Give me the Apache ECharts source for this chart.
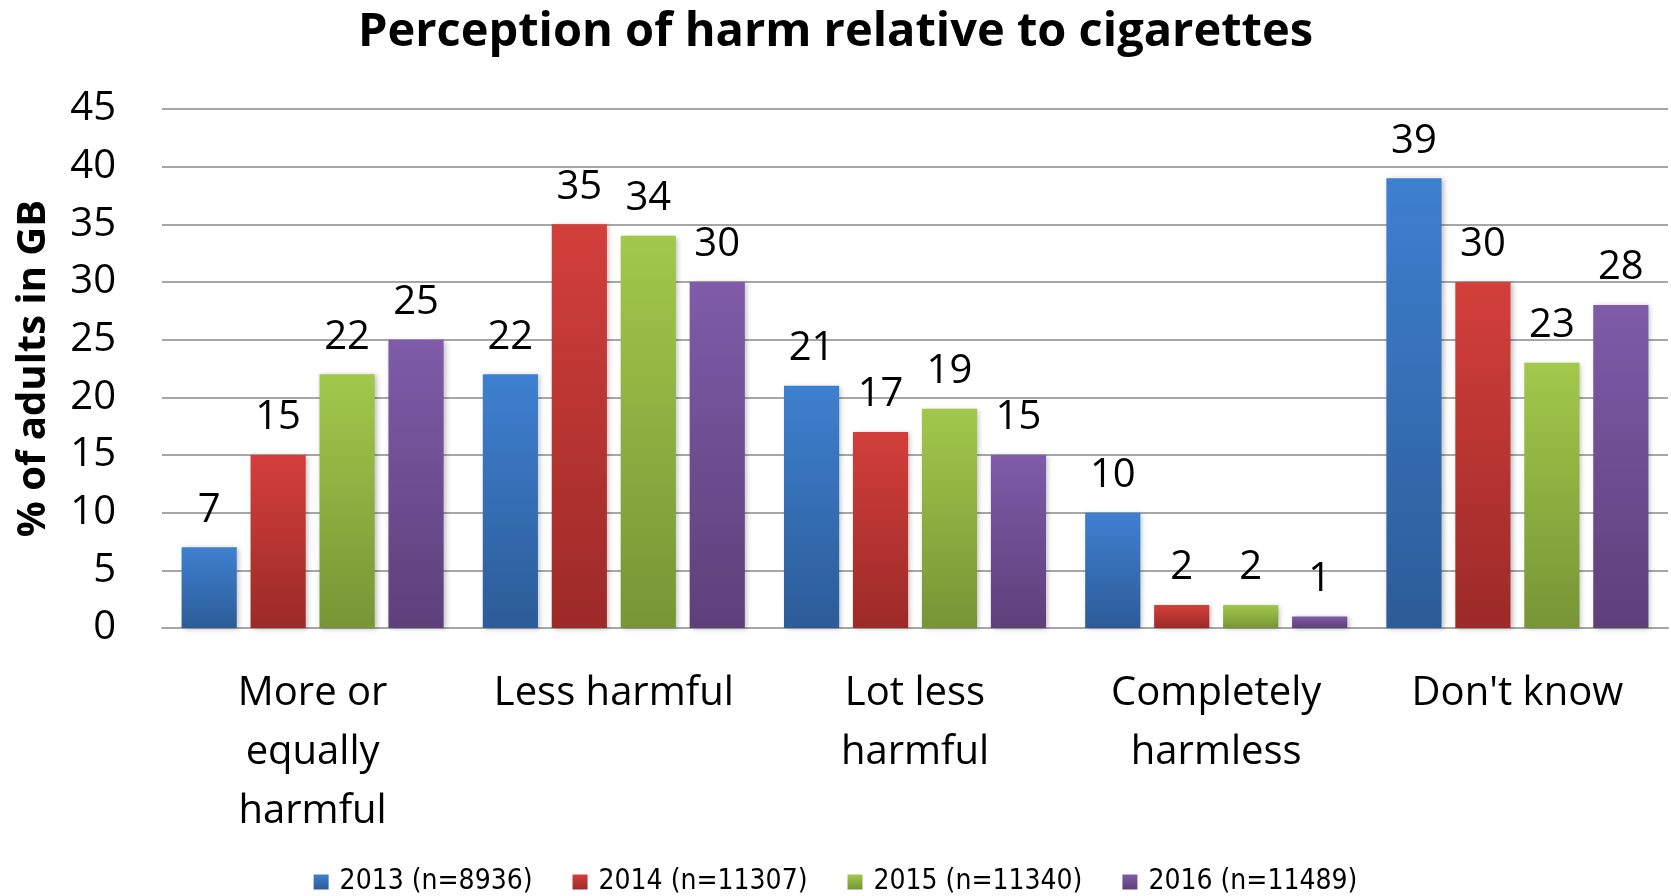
<!DOCTYPE html>
<html>
<head>
<meta charset="utf-8">
<script src="https://cdn.jsdelivr.net/npm/echarts@6/dist/echarts.min.js"></script>
<style>
  html, body { margin: 0; padding: 0; background: #fff; }
  #chart { width: 1671px; height: 896px; }
</style>
</head>
<body>
<div id="chart"></div>
<script>
// Perception categories (x axis)
const categories = [
  'More or\nequally\nharmful',
  'Less harmful',
  'Lot less\nharmful',
  'Completely\nharmless',
  "Don't know"
];

// Survey years (legend names)
const seriesNames = ['2013 (n=8936)', '2014 (n=11307)', '2015 (n=11340)', '2016 (n=11489)'];

// Percentage of adults per category, one array per survey year
const values2013 = [7, 22, 21, 10, 39];
const values2014 = [15, 35, 17, 2, 30];
const values2015 = [22, 34, 19, 2, 23];
const values2016 = [25, 30, 15, 1, 28];

// Y axis range
const yMin = 0;
const yMax = 45;
const yStep = 5;

// Top/bottom gradient colours per year
const palette = [
  ['#3e80d0', '#2c5c98'],
  ['#d33f3b', '#9c2a28'],
  ['#a2c84b', '#779535'],
  ['#7f5ba9', '#5d407a']
];

const seriesValues = [values2013, values2014, values2015, values2016];
const FONT = "'Open Sans', 'Noto Sans', sans-serif";

function gradient(c) {
  return new echarts.graphic.LinearGradient(0, 0, 0, 1, [
    { offset: 0, color: c[0] },
    { offset: 1, color: c[1] }
  ]);
}

const chart = echarts.init(document.getElementById('chart'), null, { renderer: 'canvas' });

chart.setOption({
  animation: false,
  backgroundColor: '#ffffff',
  title: {
    text: 'Perception of harm relative to cigarettes',
    left: 'center',
    top: 4,
    textStyle: { fontFamily: FONT, fontWeight: 'bold', fontSize: 47, color: '#000' }
  },
  legend: {
    bottom: -5,
    left: 'center',
    itemWidth: 15,
    itemHeight: 15,
    itemGap: 40,
    icon: 'rect',
    textStyle: {
      fontFamily: "'Liberation Sans Narrow', 'DejaVu Sans Condensed', 'Noto Sans', sans-serif",
      fontSize: 28,
      color: '#000',
      padding: [0, 0, 0, 6]
    },
    data: seriesNames
  },
  grid: { left: 162, right: 3, top: 109, bottom: 268, containLabel: false },
  xAxis: {
    type: 'category',
    data: categories,
    axisLine: { show: true, lineStyle: { color: '#a6a6a6', width: 2 } },
    axisTick: { show: false },
    axisLabel: {
      fontFamily: FONT,
      fontSize: 40,
      color: '#000',
      lineHeight: 59,
      margin: 36,
      interval: 0
    }
  },
  yAxis: {
    type: 'value',
    min: yMin,
    max: yMax,
    interval: yStep,
    name: '% of adults in GB',
    nameLocation: 'middle',
    nameRotate: 90,
    nameGap: 108,
    nameTextStyle: { fontFamily: FONT, fontWeight: 'bold', fontSize: 40, color: '#000' },
    axisLine: { show: false },
    axisTick: { show: false },
    splitLine: { lineStyle: { color: '#a6a6a6', width: 2 } },
    axisLabel: { fontFamily: FONT, fontSize: 40, color: '#000', margin: 46 }
  },
  series: seriesValues.map((vals, i) => ({
    name: seriesNames[i],
    type: 'bar',
    data: vals,
    barGap: '25%',
    barCategoryGap: '13%',
    itemStyle: {
      color: gradient(palette[i]),
      shadowColor: 'rgba(0,0,0,0.25)',
      shadowBlur: 5,
      shadowOffsetX: 2,
      shadowOffsetY: 1
    },
    label: {
      show: true,
      position: 'top',
      distance: 17,
      fontFamily: FONT,
      fontSize: 40,
      color: '#000'
    }
  }))
});
</script>
</body>
</html>
